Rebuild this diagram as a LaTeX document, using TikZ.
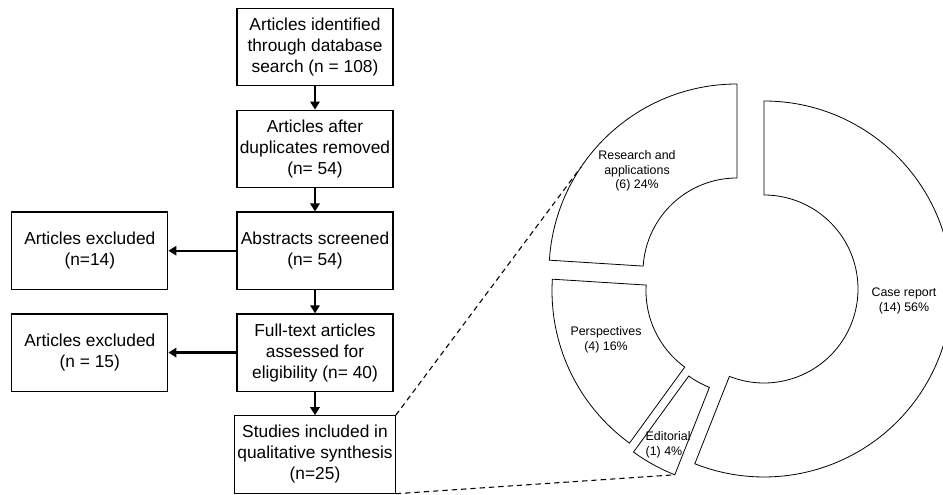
\documentclass[tikz,border=0pt]{standalone}
\usepackage{fontspec}
\setmainfont{Liberation Sans}
\usetikzlibrary{positioning,arrows.meta,calc}

\tikzset{
  box/.style={rectangle, draw, line width=0.9pt, minimum width=117pt, minimum height=58pt,
    align=center, inner sep=2pt, font=\fontsize{13pt}{15.75pt}\selectfont},
  flow/.style={-{Triangle[length=6pt,width=7pt]}, line width=1.8pt},
  slice/.style={draw, line width=0.6pt},
  lbl/.style={align=center, font=\fontsize{9.3pt}{11pt}\selectfont},
  zoomline/.style={line width=0.8pt, dash pattern=on 4pt off 3pt}
}

\begin{document}
\begin{tikzpicture}[x=0.75pt,y=0.75pt]
    \useasboundingbox (0,0) rectangle (943,495);

    % Screening steps
    \node [box] (search) at (315,448) {Articles identified\\through database\\search (n = 108)};
    \node [box, below=17.5pt of search] (dupl) {Articles after\\duplicates removed\\(n= 54)};
    \node [box, below=17.5pt of dupl] (abstr) {Abstracts screened\\(n= 54)};
    \node [box, below=17.5pt of abstr] (full) {Full-text articles\\assessed for\\eligibility (n= 40)};
    \node [box, below=17.5pt of full] (incl) {Studies included in\\qualitative synthesis\\(n=25)};

    % Exclusions
    \node [box, left=51pt of abstr] (excl1) {Articles excluded\\(n=14)};
    \node [box, left=51pt of full] (excl2) {Articles excluded\\(n = 15)};

    % Arrows
    \draw [flow] (search) -- (dupl);
    \draw [flow] (dupl) -- (abstr);
    \draw [flow] (abstr) -- (full);
    \draw [flow] (full) -- (incl);
    \draw [flow] (abstr) -- (excl1);
    \draw [flow] (full) -- (excl2);

    % Exploded donut of study types
    \coordinate (cr) at (764,206);
    \coordinate (ra) at (737,223);
    \coordinate (pe) at (740,204);
    \coordinate (ed) at (744,195);
    \draw [slice] ($(cr)+(90:141pt)$) arc [start angle=90, end angle=-111.6, radius=141pt]
        -- ($(cr)+(-111.6:70.5pt)$) arc [start angle=-111.6, end angle=90, radius=70.5pt] -- cycle;
    \draw [slice] ($(ra)+(176.4:141pt)$) arc [start angle=176.4, end angle=90, radius=141pt]
        -- ($(ra)+(90:70.5pt)$) arc [start angle=90, end angle=176.4, radius=70.5pt] -- cycle;
    \draw [slice] ($(pe)+(234:141pt)$) arc [start angle=234, end angle=176.4, radius=141pt]
        -- ($(pe)+(176.4:70.5pt)$) arc [start angle=176.4, end angle=234, radius=70.5pt] -- cycle;
    \draw [slice] ($(ed)+(248.4:141pt)$) arc [start angle=248.4, end angle=234, radius=141pt]
        -- ($(ed)+(234:70.5pt)$) arc [start angle=234, end angle=248.4, radius=70.5pt] -- cycle;

    % Slice labels
    \node [lbl] (caselbl) at (904,194) {Case report\\(14) 56\%};
    \node [lbl] (reslbl) at (637,324) {Research and\\applications\\(6) 24\%};
    \node [lbl] (perlbl) at (606,155) {Perspectives\\(4) 16\%};
    \node [lbl, align=left, anchor=west] (edlbl) at (641,50) {Editorial\\(1) 4\%};

    % Zoom lines to the donut
    \coordinate (zoomtop) at ($(ra)+(146:141pt)$);
    \coordinate (zoombot) at ($(ed)+(-111.6:141pt)$);
    \draw [zoomline] (incl.north east) -- (zoomtop);
    \draw [zoomline] (incl.south east) -- (zoombot);
\end{tikzpicture}
\end{document}
